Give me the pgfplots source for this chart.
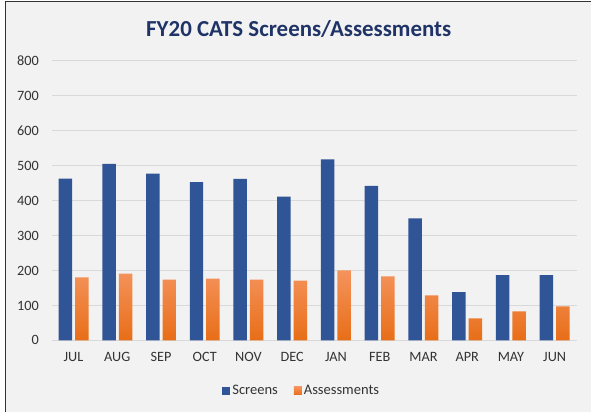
\documentclass[border=0pt]{standalone}
\usepackage{pgfplots}
\pgfplotsset{compat=1.18}
\usepackage{fontspec}
\setmainfont{Carlito}
\definecolor{bgc}{HTML}{F2F2F2}
\definecolor{scr}{HTML}{2F5597}
\definecolor{asTop}{HTML}{F4935C}
\definecolor{asBot}{HTML}{E86E18}
\definecolor{titc}{HTML}{1F3366}
\definecolor{txt}{HTML}{333333}
\definecolor{gridc}{HTML}{D9D9D9}
\begin{document}
\begin{tikzpicture}[x=1bp,y=1bp]
\fill[white] (0,0) rectangle (591,412);
\fill[bgc] (5.7,0) rectangle (591,410);
\draw[line width=1bp, black!80] (5.7,0) -- (5.7,410) -- (591,410);
\node[font=\fontsize{23}{26}\selectfont\bfseries, text=titc] at (299,382.5) {FY20 CATS Screens/Assessments};
\begin{axis}[
  at={(51.7bp,71.3bp)}, anchor=south west,
  scale only axis, width=525.3bp, height=280bp,
  ymin=0, ymax=800, ytick={0,100,...,800},
  xmin=-0.5, xmax=11.5,
  xtick=data,
  xticklabels={JUL,AUG,SEP,OCT,NOV,DEC,JAN,FEB,MAR,APR,MAY,JUN},
  ybar=3bp, bar width=13.5bp,
  axis line style={draw=none},
  major tick length=0pt,
  ymajorgrids, major grid style={draw=gridc, line width=1bp},
  /pgf/number format/assume math mode=true,
  tick label style={font=\fontsize{14.3}{16}\selectfont, text=txt},
  yticklabel style={xshift=-9.3bp},
  xticklabel style={yshift=-8bp},
  legend style={at={(0.4765,-0.18)}, anchor=center, draw=none, fill=none,
    legend columns=2, font=\fontsize{14.6}{16}\selectfont, text=txt,
    /tikz/every even column/.append style={column sep=14bp}},
  legend image code/.code={\path[#1, draw=none] (0bp,-4bp) rectangle (8bp,4bp);},
]
\addplot[draw=none, fill=scr] coordinates {(0,463) (1,505) (2,477) (3,453) (4,462) (5,411) (6,518) (7,442) (8,349) (9,138) (10,187) (11,187)};
\addplot[draw=none, top color=asTop, bottom color=asBot] coordinates {(0,180) (1,191) (2,174) (3,177) (4,174) (5,171) (6,200) (7,183) (8,129) (9,63) (10,83) (11,97)};
\legend{Screens,Assessments}
\end{axis}
\end{tikzpicture}
\end{document}
